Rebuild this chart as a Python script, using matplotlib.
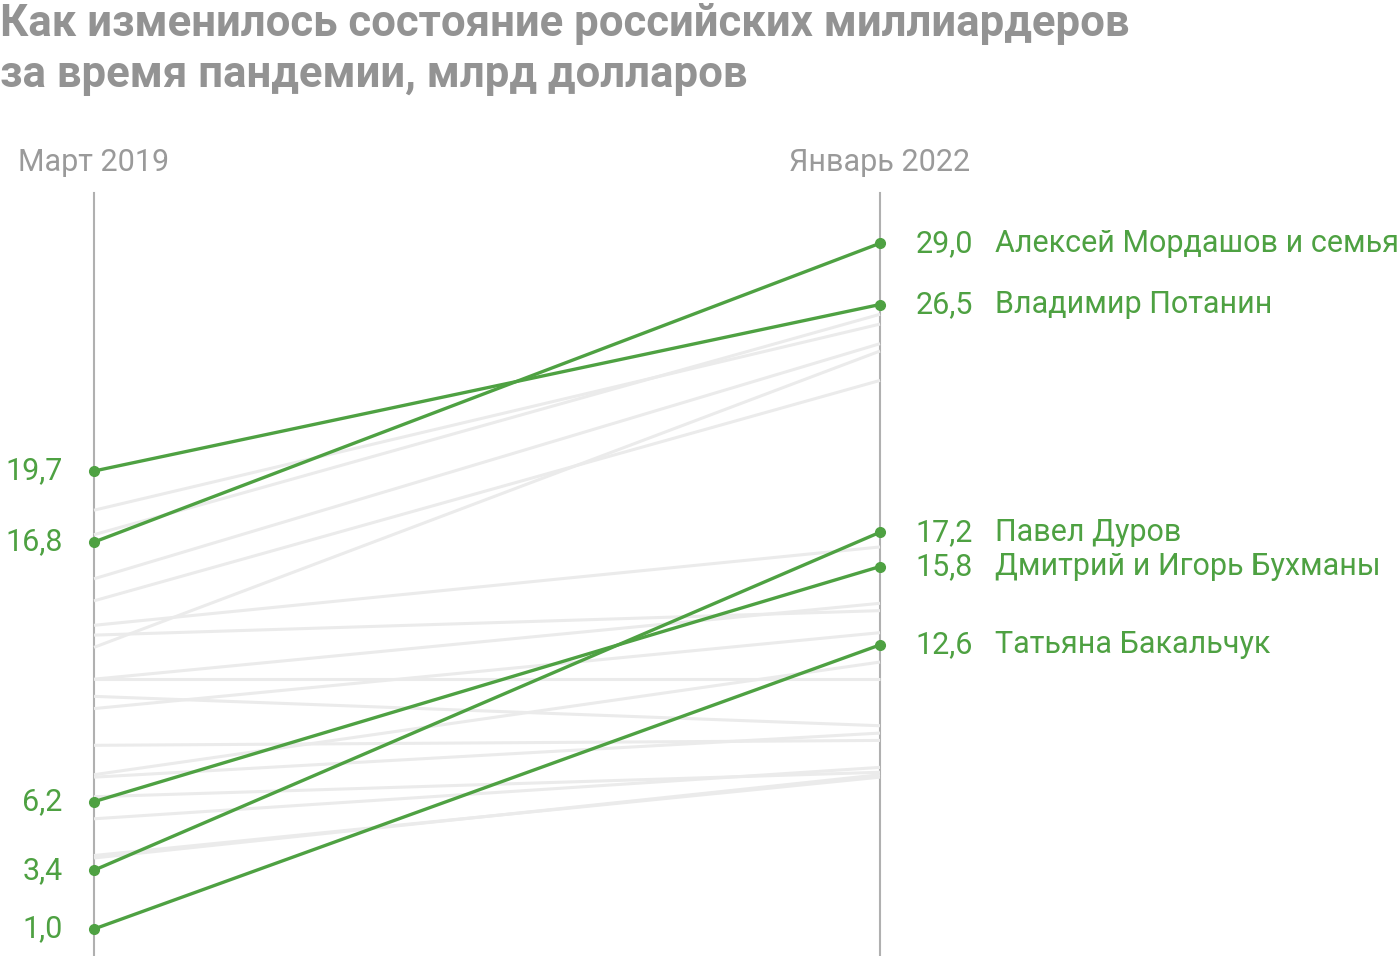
import matplotlib
matplotlib.use('Agg')
import matplotlib.pyplot as plt

# highlighted people: (name, March 2019, January 2022)
names = ['Алексей Мордашов и семья', 'Владимир Потанин', 'Павел Дуров',
         'Дмитрий и Игорь Бухманы', 'Татьяна Бакальчук']
val_2019 = [16.8, 19.7, 3.4, 6.2, 1.0]
val_2022 = [29.0, 26.5, 17.2, 15.8, 12.6]

# other billionaires (background lines)
other_2019 = [18.1, 17.1, 15.3, 14.4, 12.5, 13.4, 13.0, 11.2, 11.2, 10.5,
              10.0, 8.5, 7.3, 7.2, 6.4, 5.5, 4.0, 3.9]
other_2022 = [25.7, 26.1, 24.9, 23.4, 24.6, 16.6, 14.0, 14.3, 11.2, 9.3,
              13.1, 8.7, 11.9, 9.0, 7.4, 7.6, 7.2, 7.3]

periods = ['Март 2019', 'Январь 2022']

green = '#4ea142'
gray_txt = '#9a9a9a'
axis_col = '#b0b0b0'
bg_line = '#ebebeb'

plt.rcParams['font.family'] = ['Roboto', 'DejaVu Sans']

fig = plt.figure(figsize=(14, 9.56), dpi=100)
ax = fig.add_axes([0, 0, 1, 1])
ax.set_xlim(-94 / 786, (1400 - 94) / 786)
ax.set_ylim(1 - 27 / 24.49, 1 + 929 / 24.49)
ax.axis('off')

# vertical axes
for x in [0, 1]:
    ax.plot([x, x], [-1, 31.05], color=axis_col, lw=1.5, zorder=1)

for a, b in zip(other_2019, other_2022):
    ax.plot([0, 1], [a, b], color=bg_line, lw=2.2, zorder=2, solid_capstyle='butt')

for n, a, b in zip(names, val_2019, val_2022):
    ax.plot([0, 1], [a, b], color=green, lw=2.4, zorder=3,
            marker='o', markersize=7, clip_on=False)
    ax.text(-0.04, a, f'{a:.1f}'.replace('.', ','), ha='right', va='center',
            fontsize=22, color=green)
    ax.text(1.118, b, f'{b:.1f}'.replace('.', ','), ha='right', va='center',
            fontsize=22, color=green)
    ax.text(1.146, b, n, ha='left', va='center', fontsize=22, color=green)

ax.text(0, 32.3, periods[0], ha='center', va='center', fontsize=22, color=gray_txt)
ax.text(1, 32.3, periods[1], ha='center', va='center', fontsize=22, color=gray_txt)

fig.text(0.0, 1 - 24 / 956, 'Как изменилось состояние российских миллиардеров',
         ha='left', va='center', fontsize=31.5, fontweight='bold', color='#939393')
fig.text(0.0, 1 - 75 / 956, 'за время пандемии, млрд долларов',
         ha='left', va='center', fontsize=31.5, fontweight='bold', color='#939393')

fig.savefig('out.png', dpi=100)
